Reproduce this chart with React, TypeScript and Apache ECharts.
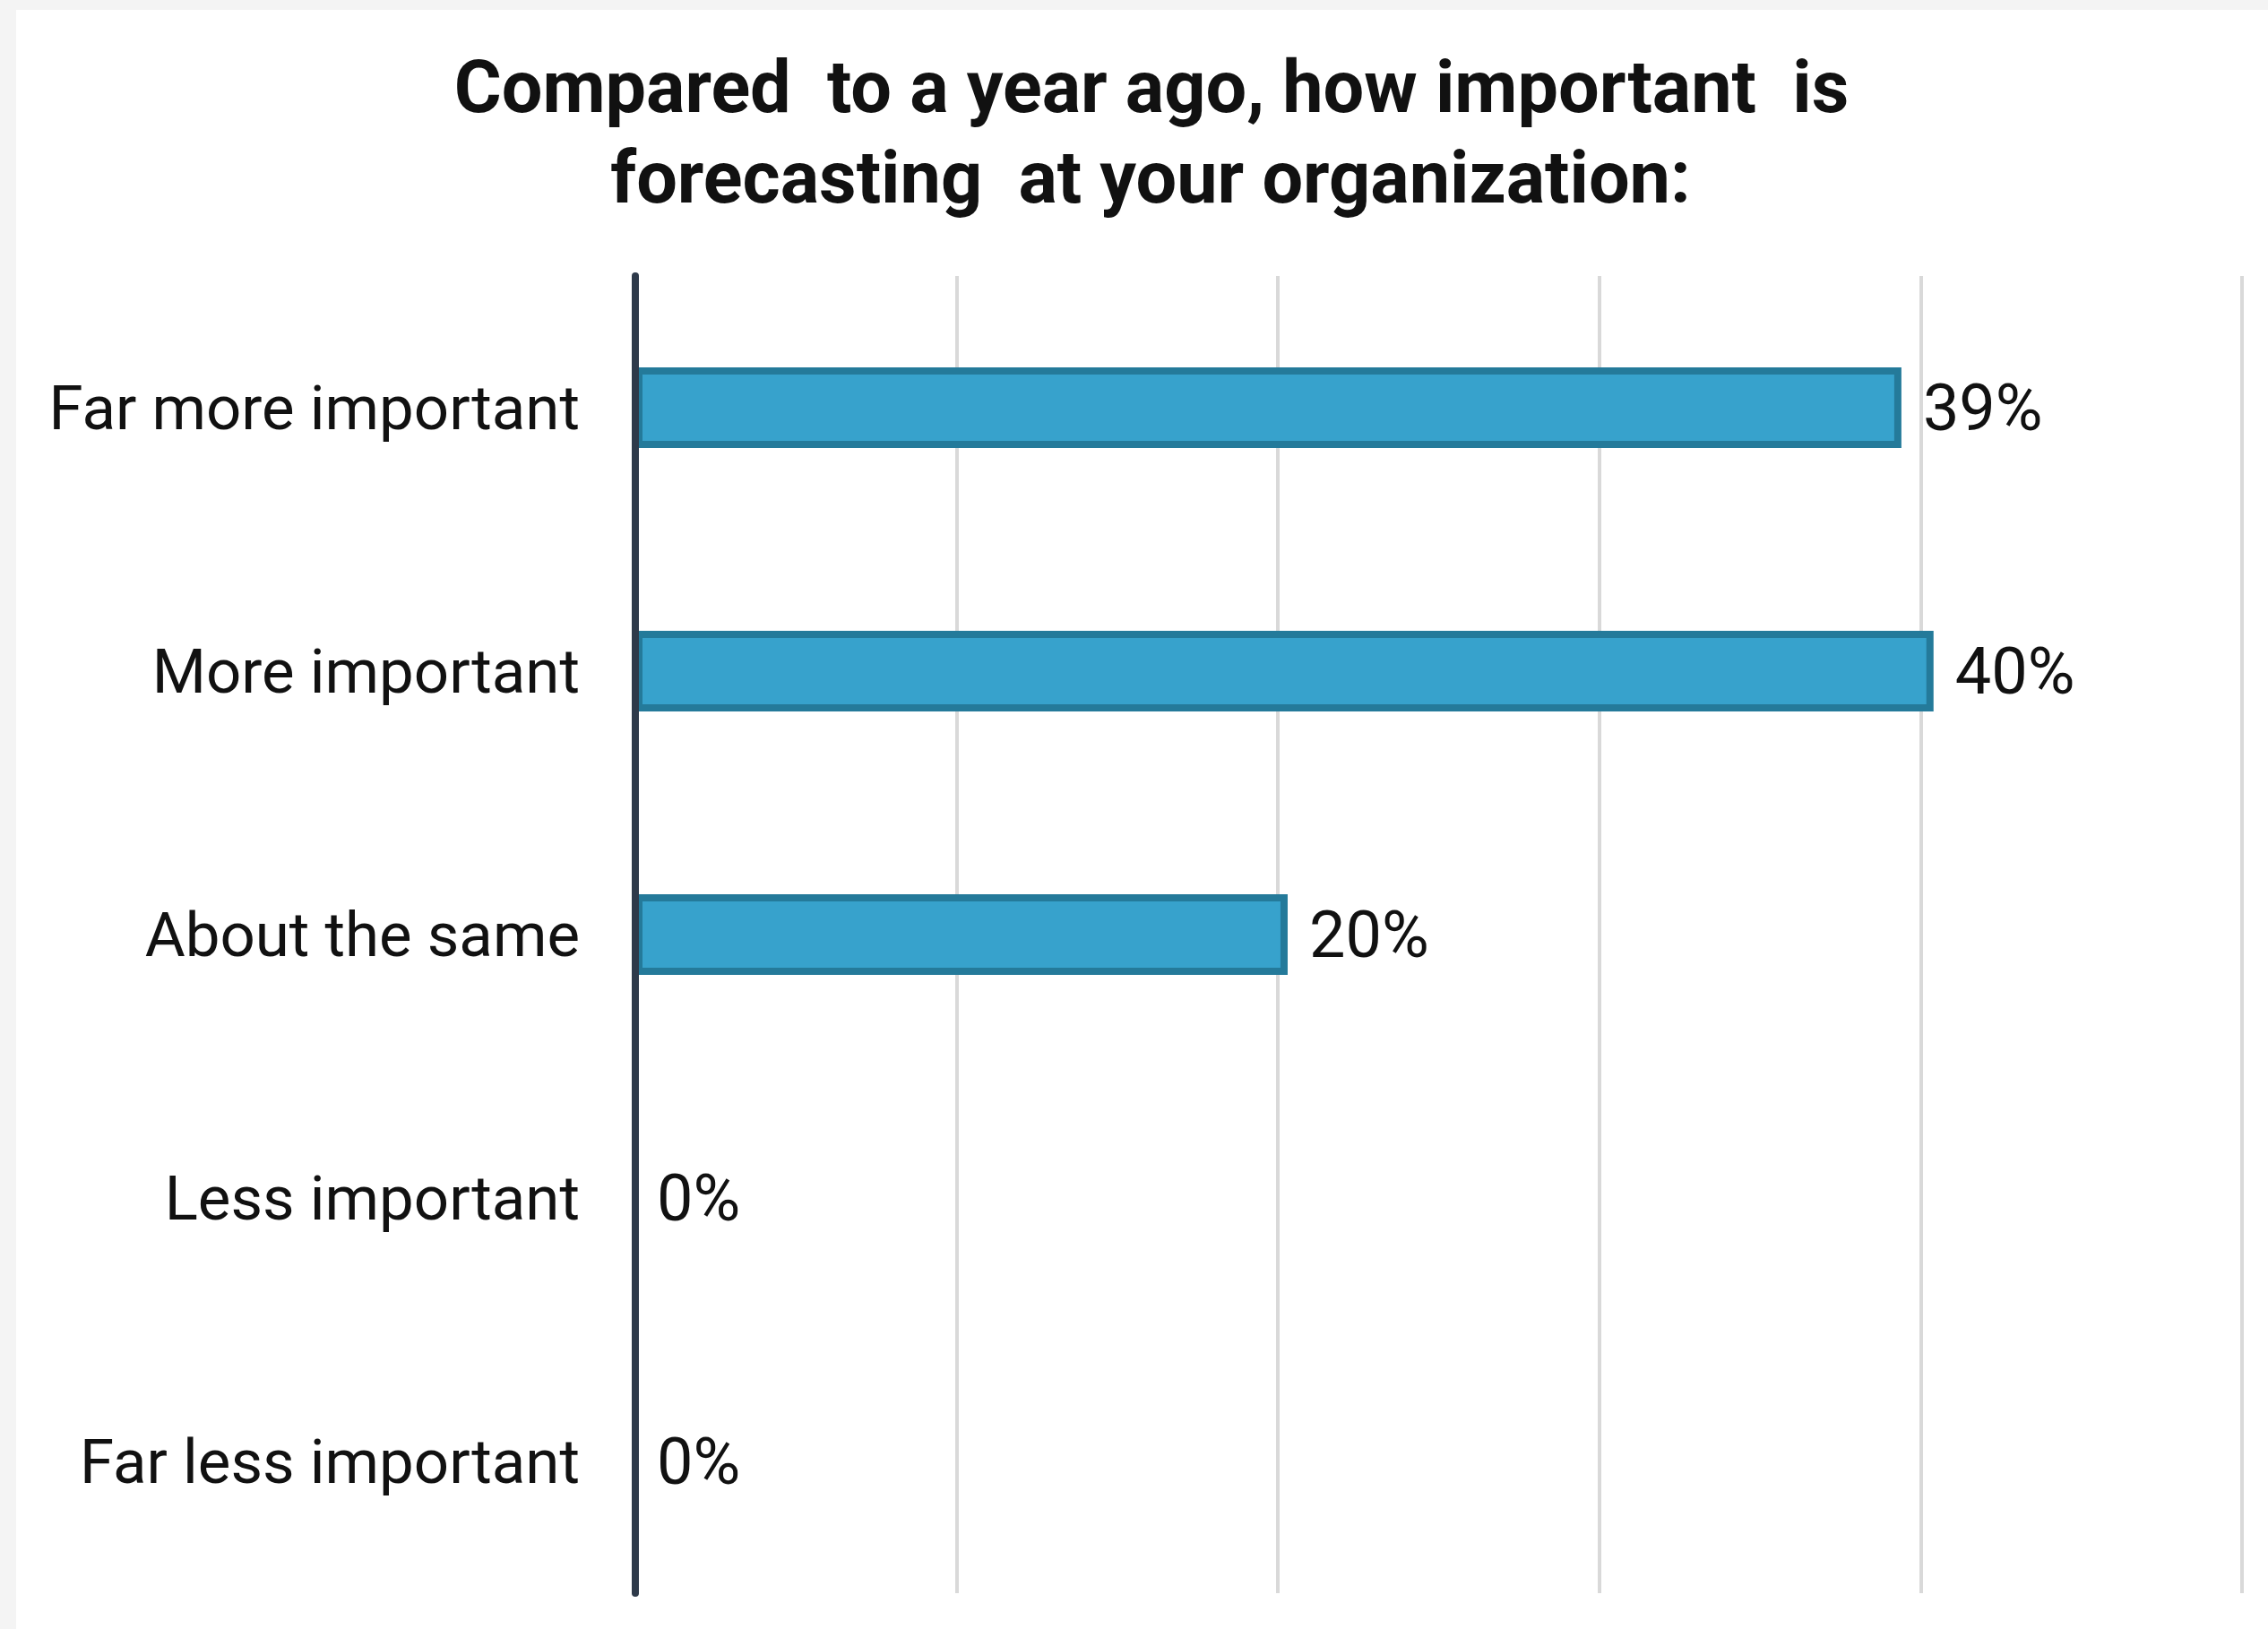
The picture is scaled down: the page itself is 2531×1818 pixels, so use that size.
import React, { useEffect, useRef } from "react";
import * as echarts from "echarts";

const titleLines = [
  "Compared  to a year ago, how important  is",
  "forecasting  at your organization:",
];
const categories = [
  "Far more important",
  "More important",
  "About the same",
  "Less important",
  "Far less important",
];
const values = [39.4, 40.4, 20.3, 0, 0];
const axisMax = 50;
const axisInterval = 10;

export default function App() {
  const ref = useRef<HTMLDivElement>(null);
  useEffect(() => {
    if (!ref.current) return;
    const chart = echarts.init(ref.current, undefined, { renderer: "svg" });
    const titleStyle = {
      textAlign: "center",
      textVerticalAlign: "middle",
      fontFamily: "Roboto",
      fontWeight: "bold",
      fontSize: 81,
      fill: "#111111",
    };
    chart.setOption({
      animation: false,
      backgroundColor: "#ffffff",
      graphic: [
        { type: "text", x: 1267, y: 86, style: { ...titleStyle, text: titleLines[0] } },
        { type: "text", x: 1266, y: 187, style: { ...titleStyle, text: titleLines[1] } },
      ],
      grid: { left: 691, right: 29, top: 297, bottom: 40, containLabel: false },
      xAxis: {
        type: "value",
        min: 0,
        max: axisMax,
        interval: axisInterval,
        axisLine: { show: false },
        axisTick: { show: false },
        axisLabel: { show: false },
        splitLine: { show: true, lineStyle: { color: "#d9d9d9", width: 4 } },
        z: 0,
      },
      yAxis: {
        type: "category",
        data: categories,
        inverse: true,
        z: 5,
        axisLine: { show: true, lineStyle: { color: "#2e3a4a", width: 8 } },
        axisTick: { show: false },
        axisLabel: {
          margin: 62,
          fontFamily: "Roboto",
          fontSize: 69,
          color: "#111111",
        },
        splitLine: { show: false },
      },
      series: [
        {
          type: "bar",
          barWidth: 90,
          data: values.map((v) =>
            v === 0 ? { value: v, itemStyle: { borderWidth: 0 } } : { value: v }
          ),
          itemStyle: { color: "#37a2cc", borderColor: "#247a9a", borderWidth: 8 },
          label: {
            show: true,
            position: "right",
            distance: 24,
            fontFamily: "Roboto",
            fontSize: 72,
            color: "#111111",
            formatter: (p: any) => Math.round(p.value) + "%",
          },
          z: 2,
        },
      ],
    });
    return () => chart.dispose();
  }, []);
  return (
    <div
      style={{
        position: "fixed",
        left: 0,
        top: 0,
        width: 2531,
        height: 1818,
        background: "#f4f4f4",
      }}
    >
      <div
        ref={ref}
        style={{ position: "absolute", left: 18, top: 11, width: 2513, height: 1807 }}
      />
    </div>
  );
}
